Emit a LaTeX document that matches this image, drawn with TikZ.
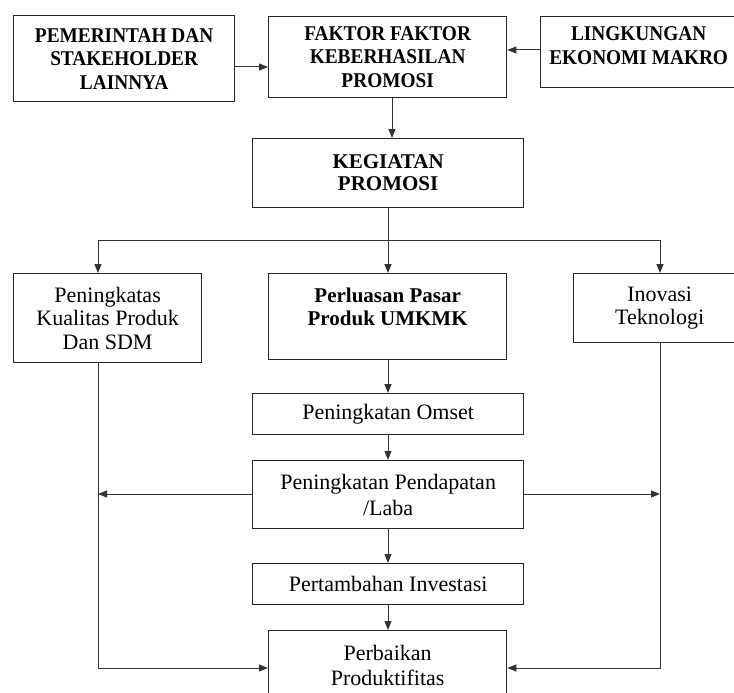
\documentclass[tikz,border=0pt]{standalone}
\usepackage{fontspec}
\setmainfont{Liberation Serif}
\newfontfamily\hdfont[FakeStretch=0.92]{Liberation Serif}
\usetikzlibrary{arrows.meta}
\begin{document}
\begin{tikzpicture}[x=1pt,y=-1pt,
  box/.style={draw=black!85, line width=1.3pt, inner sep=0pt, anchor=north west, align=center,
              font=\fontsize{22}{24.5}\selectfont},
  hd/.style={box, font=\hdfont\bfseries\fontsize{21}{23.5}\selectfont},
  conn/.style={draw=black!80, line width=1pt},
  arr/.style={conn, -{Triangle[length=9pt,width=7pt]}}]
\useasboundingbox (0,0) rectangle (734,693);
\clip (0,0) rectangle (734,693);

\node[hd, minimum width=221pt, minimum height=86pt] (A) at (13,15) {PEMERINTAH DAN\\STAKEHOLDER\\LAINNYA};
\node[hd, minimum width=238pt, minimum height=81pt] (B) at (268,16) {FAKTOR FAKTOR\\KEBERHASILAN\\PROMOSI};
\node[hd, minimum width=196pt, minimum height=71pt] (C) at (540,16) {LINGKUNGAN\\EKONOMI MAKRO\\[-10.5pt]\mbox{}};
\node[box, font=\bfseries\fontsize{21}{22}\selectfont, minimum width=271pt, minimum height=69pt] (K) at (252,138) {KEGIATAN\\PROMOSI};

\node[box, font=\fontsize{22}{23.5}\selectfont, minimum width=188pt, minimum height=89pt] (L) at (13,273) {Peningkatas\\Kualitas Produk\\Dan SDM};
\node[box, font=\bfseries\fontsize{21}{23}\selectfont, minimum width=238pt, minimum height=86pt] (M) at (268,273) {Perluasan Pasar\\Produk UMKMK\\[-4pt]\mbox{}};
\node[box, font=\fontsize{22}{23}\selectfont, minimum width=172pt, minimum height=69pt] (R) at (573,273) {Inovasi\\Teknologi};

\node[box, minimum width=271pt, minimum height=41pt] (O) at (252,393) {Peningkatan Omset};
\node[box, font=\fontsize{22}{26}\selectfont, minimum width=271pt, minimum height=68pt] (P) at (252,460) {Peningkatan Pendapatan\\/Laba};
\node[box, minimum width=271pt, minimum height=41pt] (I) at (252,563) {Pertambahan Investasi};
\node[box, font=\fontsize{22}{25}\selectfont, minimum width=238pt, minimum height=69pt] (Q) at (268,630) {Perbaikan\\Produktifitas};

\coordinate (hAB) at (0,67);
\coordinate (hCB) at (0,50);
\coordinate (vBK) at (392,0);
\coordinate (vM) at (388,0);
\coordinate (bus) at (0,240);
\coordinate (vL) at (98,0);
\coordinate (vR) at (660,0);
\coordinate (hP) at (0,494);
\coordinate (hQ) at (0,668);

\draw[arr] (A.east |- hAB) -- (B.west |- hAB);
\draw[arr] (C.west |- hCB) -- (B.east |- hCB);
\draw[arr] (B.south -| vBK) -- (K.north -| vBK);
\draw[conn] (K.south -| vM) -- (vM |- bus);
\draw[conn] (vL |- bus) -- (vR |- bus);
\draw[arr] (vL |- bus) -- (L.north -| vL);
\draw[arr] (vM |- bus) -- (M.north -| vM);
\draw[arr] (vR |- bus) -- (R.north -| vR);
\draw[arr] (M.south -| vM) -- (O.north -| vM);
\draw[arr] (O.south -| vM) -- (P.north -| vM);
\draw[arr] (P.south -| vM) -- (I.north -| vM);
\draw[arr] (I.south -| vM) -- (Q.north -| vM);
\draw[arr] (P.west |- hP) -- (vL |- hP);
\draw[arr] (P.east |- hP) -- (vR |- hP);
\draw[arr] (L.south -| vL) -- (vL |- hQ) -- (Q.west |- hQ);
\draw[arr] (R.south -| vR) -- (vR |- hQ) -- (Q.east |- hQ);
\end{tikzpicture}
\end{document}
